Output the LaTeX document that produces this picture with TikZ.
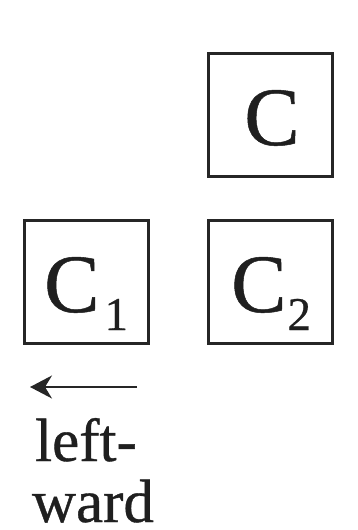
\documentclass[tikz,border=0pt]{standalone}
\usepackage{fontspec}
\setmainfont{Liberation Serif}[FakeBold=0.6]
\usetikzlibrary{arrows.meta}
\begin{document}
\begin{tikzpicture}[x=1pt,y=1pt,
  cbox/.style={draw=black!85, line width=3pt, minimum width=124pt, minimum height=123pt, inner sep=0pt},
  bigc/.style={anchor=base, inner sep=0pt, font=\fontsize{83}{90}\selectfont, text=black!88},
  word/.style={anchor=base, inner sep=0pt, font=\fontsize{61}{64}\selectfont, text=black!88}]
\useasboundingbox (0,0) rectangle (357,-530);
\node[cbox] (bc) at (270.5,-115) {};
\node[cbox] (b1) at (86.5,-282) {};
\node[cbox] (b2) at (270.5,-282) {};
\node[bigc] (tc) at (272,-145) {C};
\node[bigc, anchor=base west] (t1) at (44,-312) {C\kern5pt\raisebox{-18pt}{\fontsize{47}{50}\selectfont 1}};
\node[bigc, anchor=base west] (t2) at (231,-312) {C\kern1pt\raisebox{-18pt}{\fontsize{47}{50}\selectfont 2}};
\coordinate (as) at (137,-387);
\coordinate (ae) at (30,-387);
\draw[line width=1.6pt, draw=black!85, -{Stealth[length=22pt,width=23pt,inset=7pt]}] (as) -- (ae);
\node[word] (w1) at (86,-461) {left-};
\node[word] (w2) at (93,-522) {ward};
\end{tikzpicture}
\end{document}
